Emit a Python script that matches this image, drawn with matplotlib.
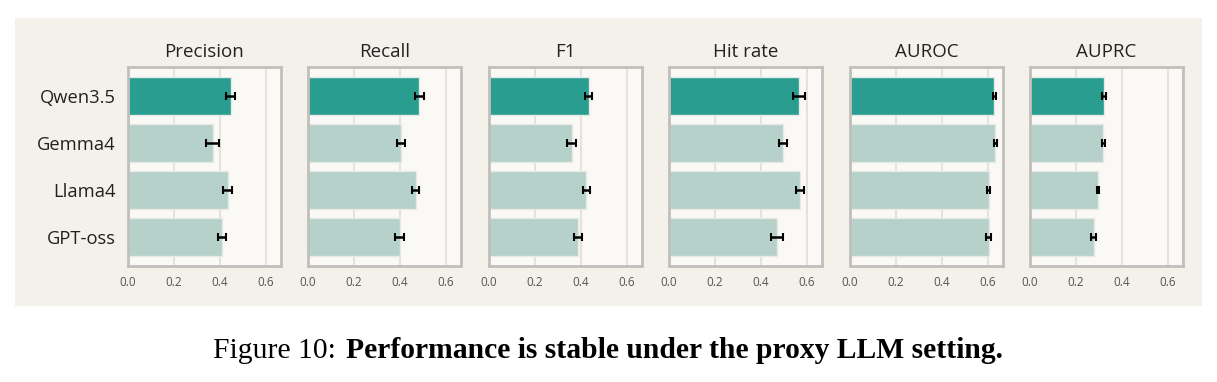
import matplotlib
matplotlib.use("Agg")
import matplotlib.pyplot as plt
import numpy as np

models = ["Qwen3.5", "Gemma4", "Llama4", "GPT-oss"]
metrics = ["Precision", "Recall", "F1", "Hit rate", "AUROC", "AUPRC"]
precision = [0.446, 0.369, 0.434, 0.409]
precision_err = [0.021, 0.028, 0.019, 0.019]
recall = [0.483, 0.405, 0.468, 0.398]
recall_err = [0.020, 0.017, 0.014, 0.020]
f1 = [0.433, 0.359, 0.422, 0.387]
f1_err = [0.015, 0.020, 0.015, 0.017]
hit_rate = [0.564, 0.495, 0.569, 0.470]
hit_rate_err = [0.026, 0.019, 0.016, 0.026]
auroc = [0.628, 0.631, 0.603, 0.603]
auroc_err = [0.007, 0.007, 0.007, 0.010]
auprc = [0.322, 0.319, 0.295, 0.276]
auprc_err = [0.009, 0.006, 0.005, 0.011]
xticks = [0.0, 0.2, 0.4, 0.6]

values = [precision, recall, f1, hit_rate, auroc, auprc]
errors = [precision_err, recall_err, f1_err, hit_rate_err, auroc_err, auprc_err]

W, H = 1217, 382
fig = plt.figure(figsize=(W / 100, H / 100), dpi=100)
fig.patch.set_facecolor("white")
bg = fig.add_axes([15 / W, 1 - 306 / H, (1202 - 15) / W, (306 - 18) / H], zorder=-10)
bg.set_facecolor("#f4f1eb")
bg.set_xticks([])
bg.set_yticks([])
for s in bg.spines.values():
    s.set_visible(False)

font = ["Open Sans", "DejaVu Sans"]
dark = "#289d90"
light = "#b5d1ca"
lefts = [128, 308, 489, 669, 850, 1030]
aw = 153
top, bottom = 67, 266

for i, (m, v, e) in enumerate(zip(metrics, values, errors)):
    ax = fig.add_axes([lefts[i] / W, 1 - bottom / H, aw / W, (bottom - top) / H])
    ax.set_facecolor("#faf9f6")
    y = np.arange(len(models))
    colors = [dark] + [light] * (len(models) - 1)
    ax.barh(y, v, height=0.8, color=colors, edgecolor="#e6e9e6", linewidth=1.0, zorder=2)
    ax.errorbar(v, y, xerr=e, fmt="none", ecolor="black", elinewidth=1.8,
                capsize=2.8, capthick=1.5, zorder=3)
    ax.set_xlim(0, 0.665)
    ax.set_ylim(3.62, -0.62)
    ax.set_xticks(xticks)
    ax.set_xticklabels([f"{t:.1f}" for t in xticks], fontsize=8.5, color="#555555",
                       family=font)
    ax.tick_params(axis="x", length=0, pad=7)
    ax.tick_params(axis="y", length=0, pad=9)
    ax.grid(axis="x", color="#e4e2de", linewidth=1.5, zorder=0)
    ax.set_axisbelow(True)
    if i == 0:
        ax.set_yticks(y)
        ax.set_yticklabels(models, fontsize=13.2, color="#222222", family=font)
    else:
        ax.set_yticks([])
    for s in ax.spines.values():
        s.set_color("#c0bfbc")
        s.set_linewidth(2)
    ax.set_title(m, fontsize=13.5, color="#222222", family=font, pad=7)

t1 = fig.text(213 / W, 1 - 351 / H, "Figure 10: ", family="Liberation Serif",
              fontsize=21.3, va="center", ha="left")
fig.canvas.draw()
bb = t1.get_window_extent()
fig.text(bb.x1 / W + 3 / W, 1 - 351 / H,
         "Performance is stable under the proxy LLM setting.",
         family="Liberation Serif", fontweight="bold", fontsize=21.3,
         va="center", ha="left")

fig.savefig("out.png", dpi=100, facecolor="white")
